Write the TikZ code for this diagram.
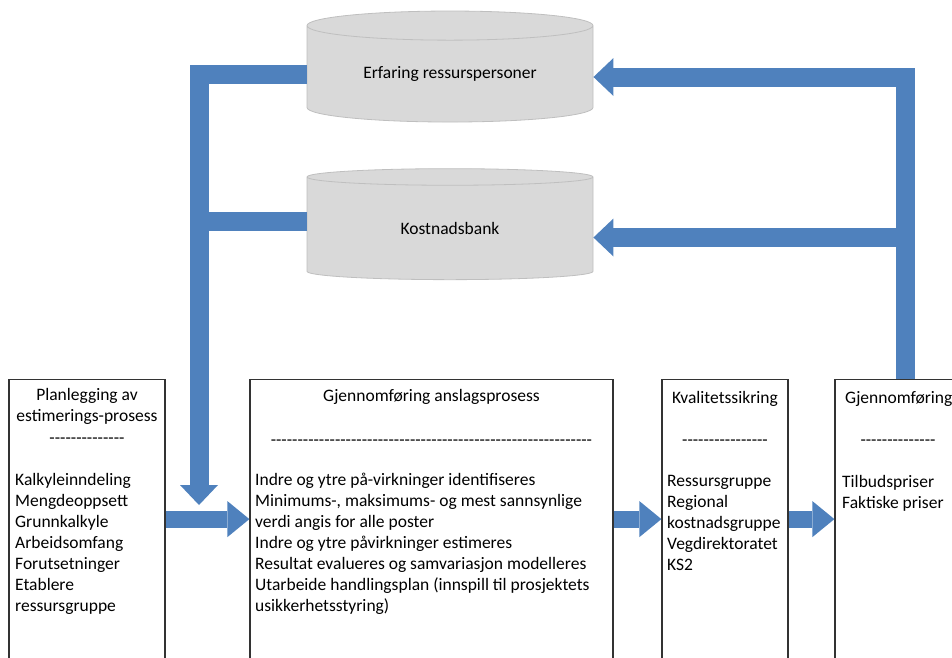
\documentclass[tikz,border=0pt]{standalone}
\usepackage{fontspec}
\setmainfont{Carlito}[Ligatures=TeXOff]
\usepackage{xcolor}
\usetikzlibrary{shapes.geometric,arrows.meta}

\definecolor{flowblue}{HTML}{4F81BD}
\definecolor{bankgray}{HTML}{D9D9D9}
\definecolor{bankedge}{HTML}{BFBFBF}

\begin{document}
\begin{tikzpicture}[
            x=1pt, y=-1pt,
            txt/.style={inner sep=0pt, font=\fontsize{17.5}{21}\selectfont},
            store/.style={cylinder, shape border rotate=90, aspect=0.168, draw=bankedge, fill=bankgray,
                line width=0.8pt, minimum width=286pt, minimum height=111pt, txt},
            stage/.style={rectangle, draw=black!80, line width=1.2pt, anchor=north, minimum height=279pt, inner sep=0pt},
            heading/.style={txt, align=center, anchor=north},
            dashrow/.style={txt, anchor=base},
            items/.style={txt, align=left, anchor=north west},
            feedback/.style={draw=flowblue, line width=19pt, line join=miter},
            flow/.style={draw=flowblue, line width=17pt, -{Triangle[length=22pt,width=36pt,line width=0pt]}}
        ]
            \useasboundingbox (0,0) rectangle (952,657);
            % Databases
            \node[store] (erf) at (450,74) {Erfaring ressurspersoner};
            \node[store] (bank) at (450,228.5) {Kostnadsbank};
            % Process boxes
            \node[stage, minimum width=156pt] (plan) at (87,379) {};
            \node[stage, minimum width=363pt] (run) at (431.5,379) {};
            \node[stage, minimum width=126pt] (check) at (725,379) {};
            \node[stage, minimum width=140pt] (done) at (905,379) {};
            % Box texts
            \node[heading] (plantitle) at (87,388) {Planlegging av\\estimerings-prosess};
            \node[dashrow] (plandash) at (87,443) {--------------};
            \node[items] (planlist) at (15,473) {Kalkyleinndeling\\Mengdeoppsett\\Grunnkalkyle\\Arbeidsomfang\\Forutsetninger\\Etablere\\ressursgruppe};
            \node[dashrow] (runtitle) at (431.5,401) {Gjennomføring anslagsprosess};
            \node[dashrow] (rundash) at (431.5,445) {------------------------------------------------------------};
            \node[items] (runlist) at (255,473) {Indre og ytre på-virkninger identifiseres\\Minimums-, maksimums- og mest sannsynlige\\verdi angis for alle poster\\Indre og ytre påvirkninger estimeres\\Resultat evalueres og samvariasjon modelleres\\Utarbeide handlingsplan (innspill til prosjektets\\usikkerhetsstyring)};
            \node[dashrow] (checktitle) at (725,403) {Kvalitetssikring};
            \node[dashrow] (checkdash) at (725,445) {----------------};
            \node[items] (checklist) at (667,475) {Ressursgruppe\\Regional\\kostnadsgruppe\\Vegdirektoratet\\KS2};
            \node[dashrow, anchor=base west] (donetitle) at (845,403) {Gjennomføring};
            \node[dashrow] (donedash) at (898,445) {--------------};
            \node[items] (donelist) at (842,475) {Tilbudspriser\\Faktiske priser};
            % Feedback loops
            \coordinate (drop) at (199,505);
            \coordinate (erfin) at ([yshift=-3pt]erf.east);
            \coordinate (bankin) at ([yshift=-9pt]bank.east);
            \draw[feedback, -{Triangle[length=20pt,width=38pt,line width=0pt]}] (erf.west) -| (drop);
            \draw[feedback] ([yshift=7pt]bank.west) -- ([yshift=7pt]bank.west -| drop);
            \draw[feedback, -{Triangle[length=20pt,width=38pt,line width=0pt]}] (done.north) |- (erfin);
            \draw[feedback, -{Triangle[length=20pt,width=38pt,line width=0pt]}] (done.north |- bankin) -- (bankin);
            % Main flow
            \draw[flow] (plan.east) -- (run.west);
            \draw[flow] (run.east) -- (check.west);
            \draw[flow] (check.east) -- (done.west);
        \end{tikzpicture}
\end{document}
